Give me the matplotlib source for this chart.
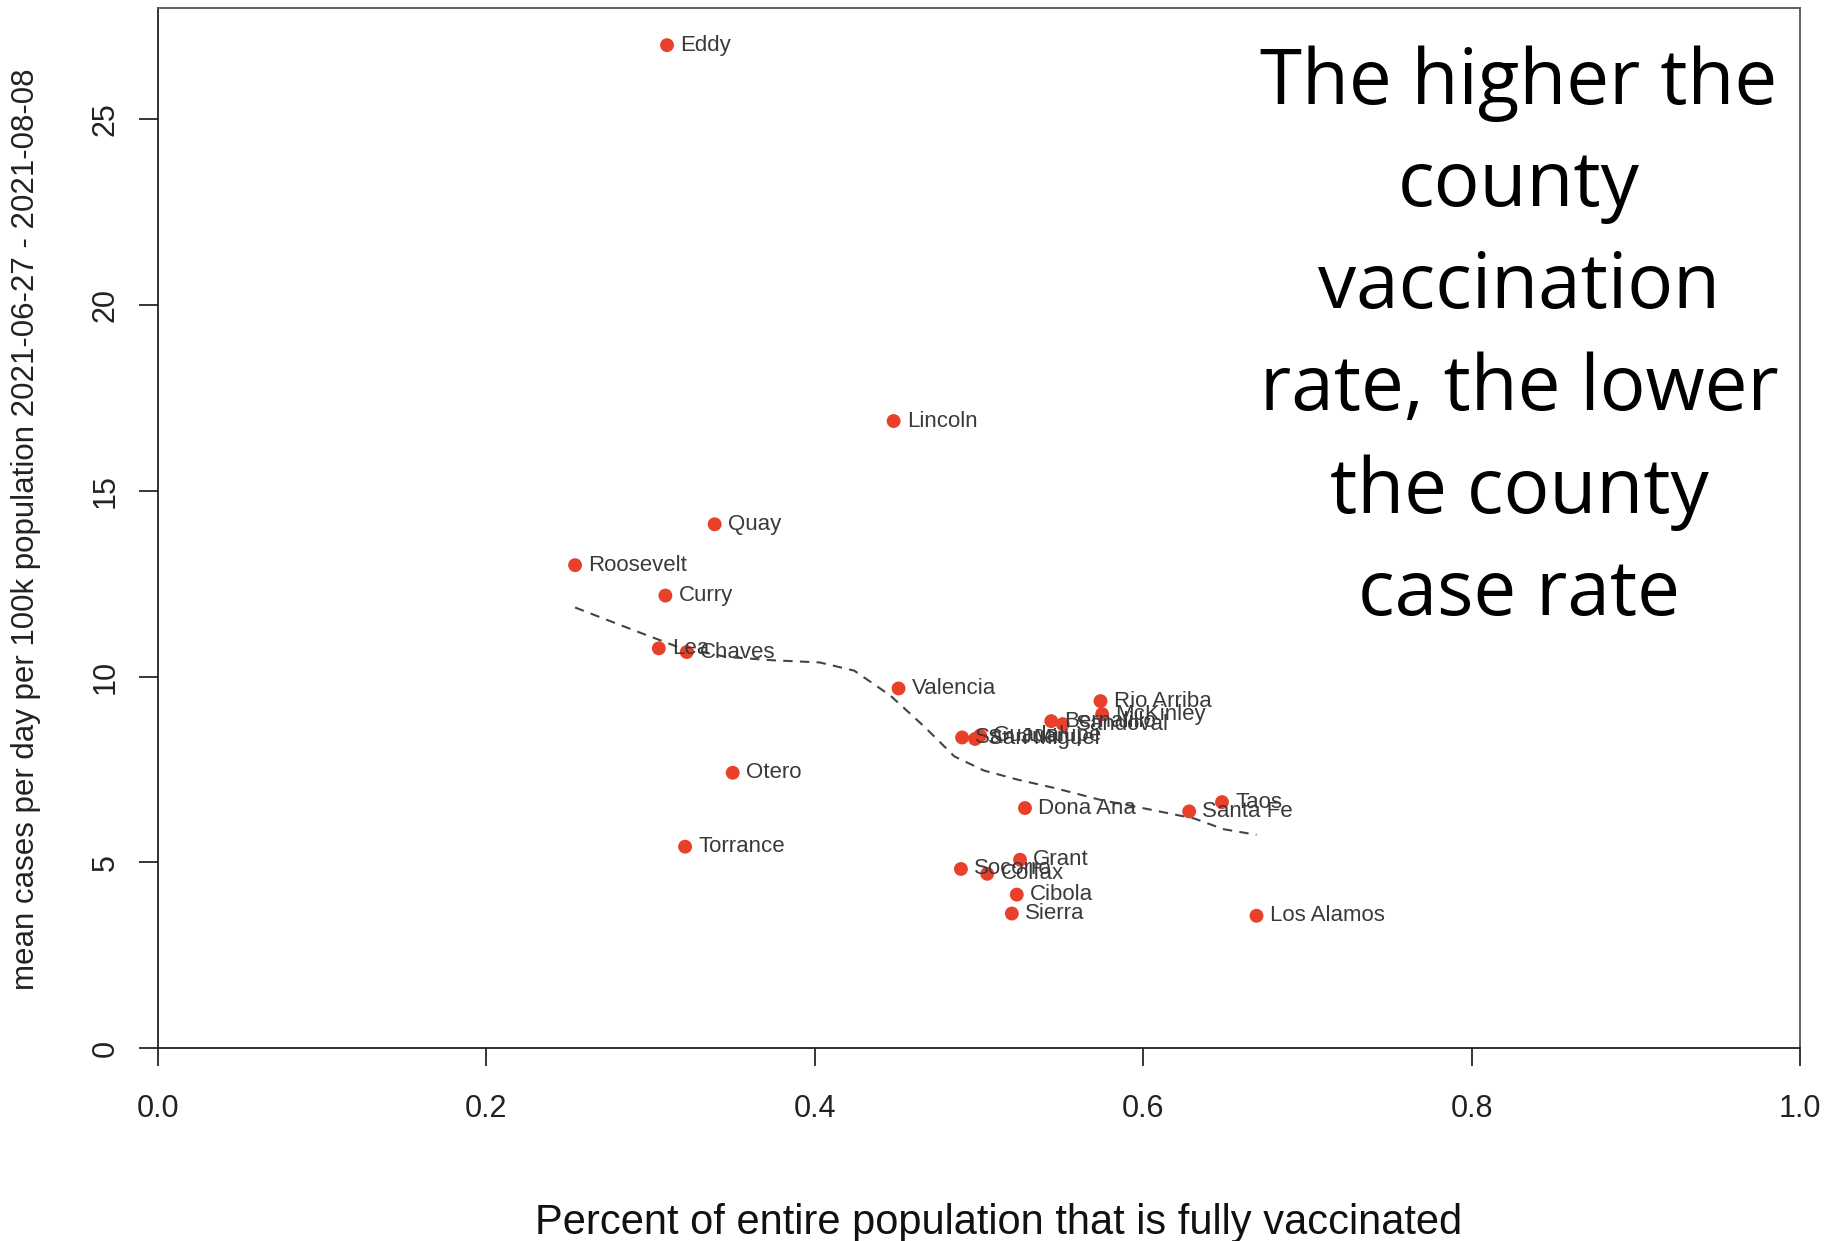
import matplotlib
matplotlib.use('agg')
import matplotlib.pyplot as plt

########################################################################
# data -----------------------------------------------------------------
########################################################################
counties = ['Eddy', 'Lincoln', 'Quay', 'Roosevelt', 'Curry', 'Lea', 'Chaves',
            'Valencia', 'Otero', 'Torrance', 'Rio Arriba', 'McKinley',
            'Bernalillo', 'Sandoval', 'San Juan', 'San Miguel', 'Guadalupe',
            'Dona Ana', 'Taos', 'Santa Fe', 'Grant', 'Socorro', 'Colfax',
            'Cibola', 'Sierra', 'Los Alamos']
vacc = [0.310, 0.448, 0.339, 0.254, 0.309, 0.305, 0.322,
        0.451, 0.350, 0.321, 0.574, 0.575,
        0.544, 0.551, 0.4897, 0.4976, 0.5007,
        0.528, 0.648, 0.628, 0.525, 0.489, 0.505,
        0.523, 0.520, 0.669]
cases = [27.00, 16.88, 14.10, 13.00, 12.18, 10.76, 10.66,
         9.68, 7.41, 5.42, 9.34, 8.99,
         8.80, 8.72, 8.36, 8.32, 8.41,
         6.46, 6.62, 6.37, 5.07, 4.82, 4.69,
         4.13, 3.62, 3.56]

# loess-like smooth (dashed)
fit_x = [0.254, 0.289, 0.317, 0.346, 0.374, 0.403, 0.424, 0.446, 0.467,
         0.485, 0.503, 0.524, 0.546, 0.574, 0.603, 0.631, 0.649, 0.669]
fit_y = [11.86, 11.26, 10.79, 10.53, 10.44, 10.38, 10.16, 9.49, 8.64,
         7.85, 7.47, 7.22, 7.00, 6.68, 6.43, 6.18, 5.89, 5.74]

xticks = [0.0, 0.2, 0.4, 0.6, 0.8, 1.0]
yticks = [0, 5, 10, 15, 20, 25]

xlab = 'Percent of entire population that is fully vaccinated'
ylab = 'mean cases per day per 100k population 2021-06-27 - 2021-08-08'
note = 'The higher the\ncounty\nvaccination\nrate, the lower\nthe county\ncase rate'

plt.rcParams['font.family'] = ['Liberation Sans', 'DejaVu Sans']

fig = plt.figure(figsize=(18.36, 12.41), dpi=100)
ax = fig.add_axes([158/1836, 1-1048/1241, (1800-158)/1836, (1048-8)/1241])

ax.plot(fit_x, fit_y, color='#444444', lw=1.5, linestyle=(0, (4.5, 3.5)), zorder=2)
ax.scatter(vacc, cases, s=100, color='#E8402A', edgecolors='none', zorder=3)
for name, xv, yv in zip(counties, vacc, cases):
    ax.annotate(name, (xv, yv), xytext=(9.5, 0), textcoords='offset points',
                ha='left', va='center', fontsize=16, color='#3a3a3a', zorder=4)

ax.set_xlim(0, 1)
ax.set_ylim(0, 28)
ax.set_xticks(xticks)
ax.set_xticklabels(['%.1f' % t for t in xticks])
ax.set_yticks(yticks)
ax.set_yticklabels([str(t) for t in yticks], rotation=90, va='center')
ax.tick_params(axis='x', length=13, width=1.1, pad=20, labelsize=22, labelcolor='#222222')
ax.tick_params(axis='y', length=14, width=1.1, pad=13, labelsize=22, labelcolor='#222222')
for sp in ax.spines.values():
    sp.set_linewidth(1.3)
    sp.set_color('#555555')
ax.spines['bottom'].set_color('#222222')
ax.spines['left'].set_color('#222222')

fig.text(0.544, 0.0145, xlab, ha='center', va='center', fontsize=30, color='#111111')
fig.text(0.014, 1-529/1241, ylab, ha='center', va='center', rotation=90,
         fontsize=22.5, color='#222222')

fig.text(1519/1836, 1-339/1241, note, ha='center', va='center', fontsize=55,
         family=['Open Sans', 'DejaVu Sans'], linespacing=1.44, color='black')

fig.savefig('out.png', dpi=100)
